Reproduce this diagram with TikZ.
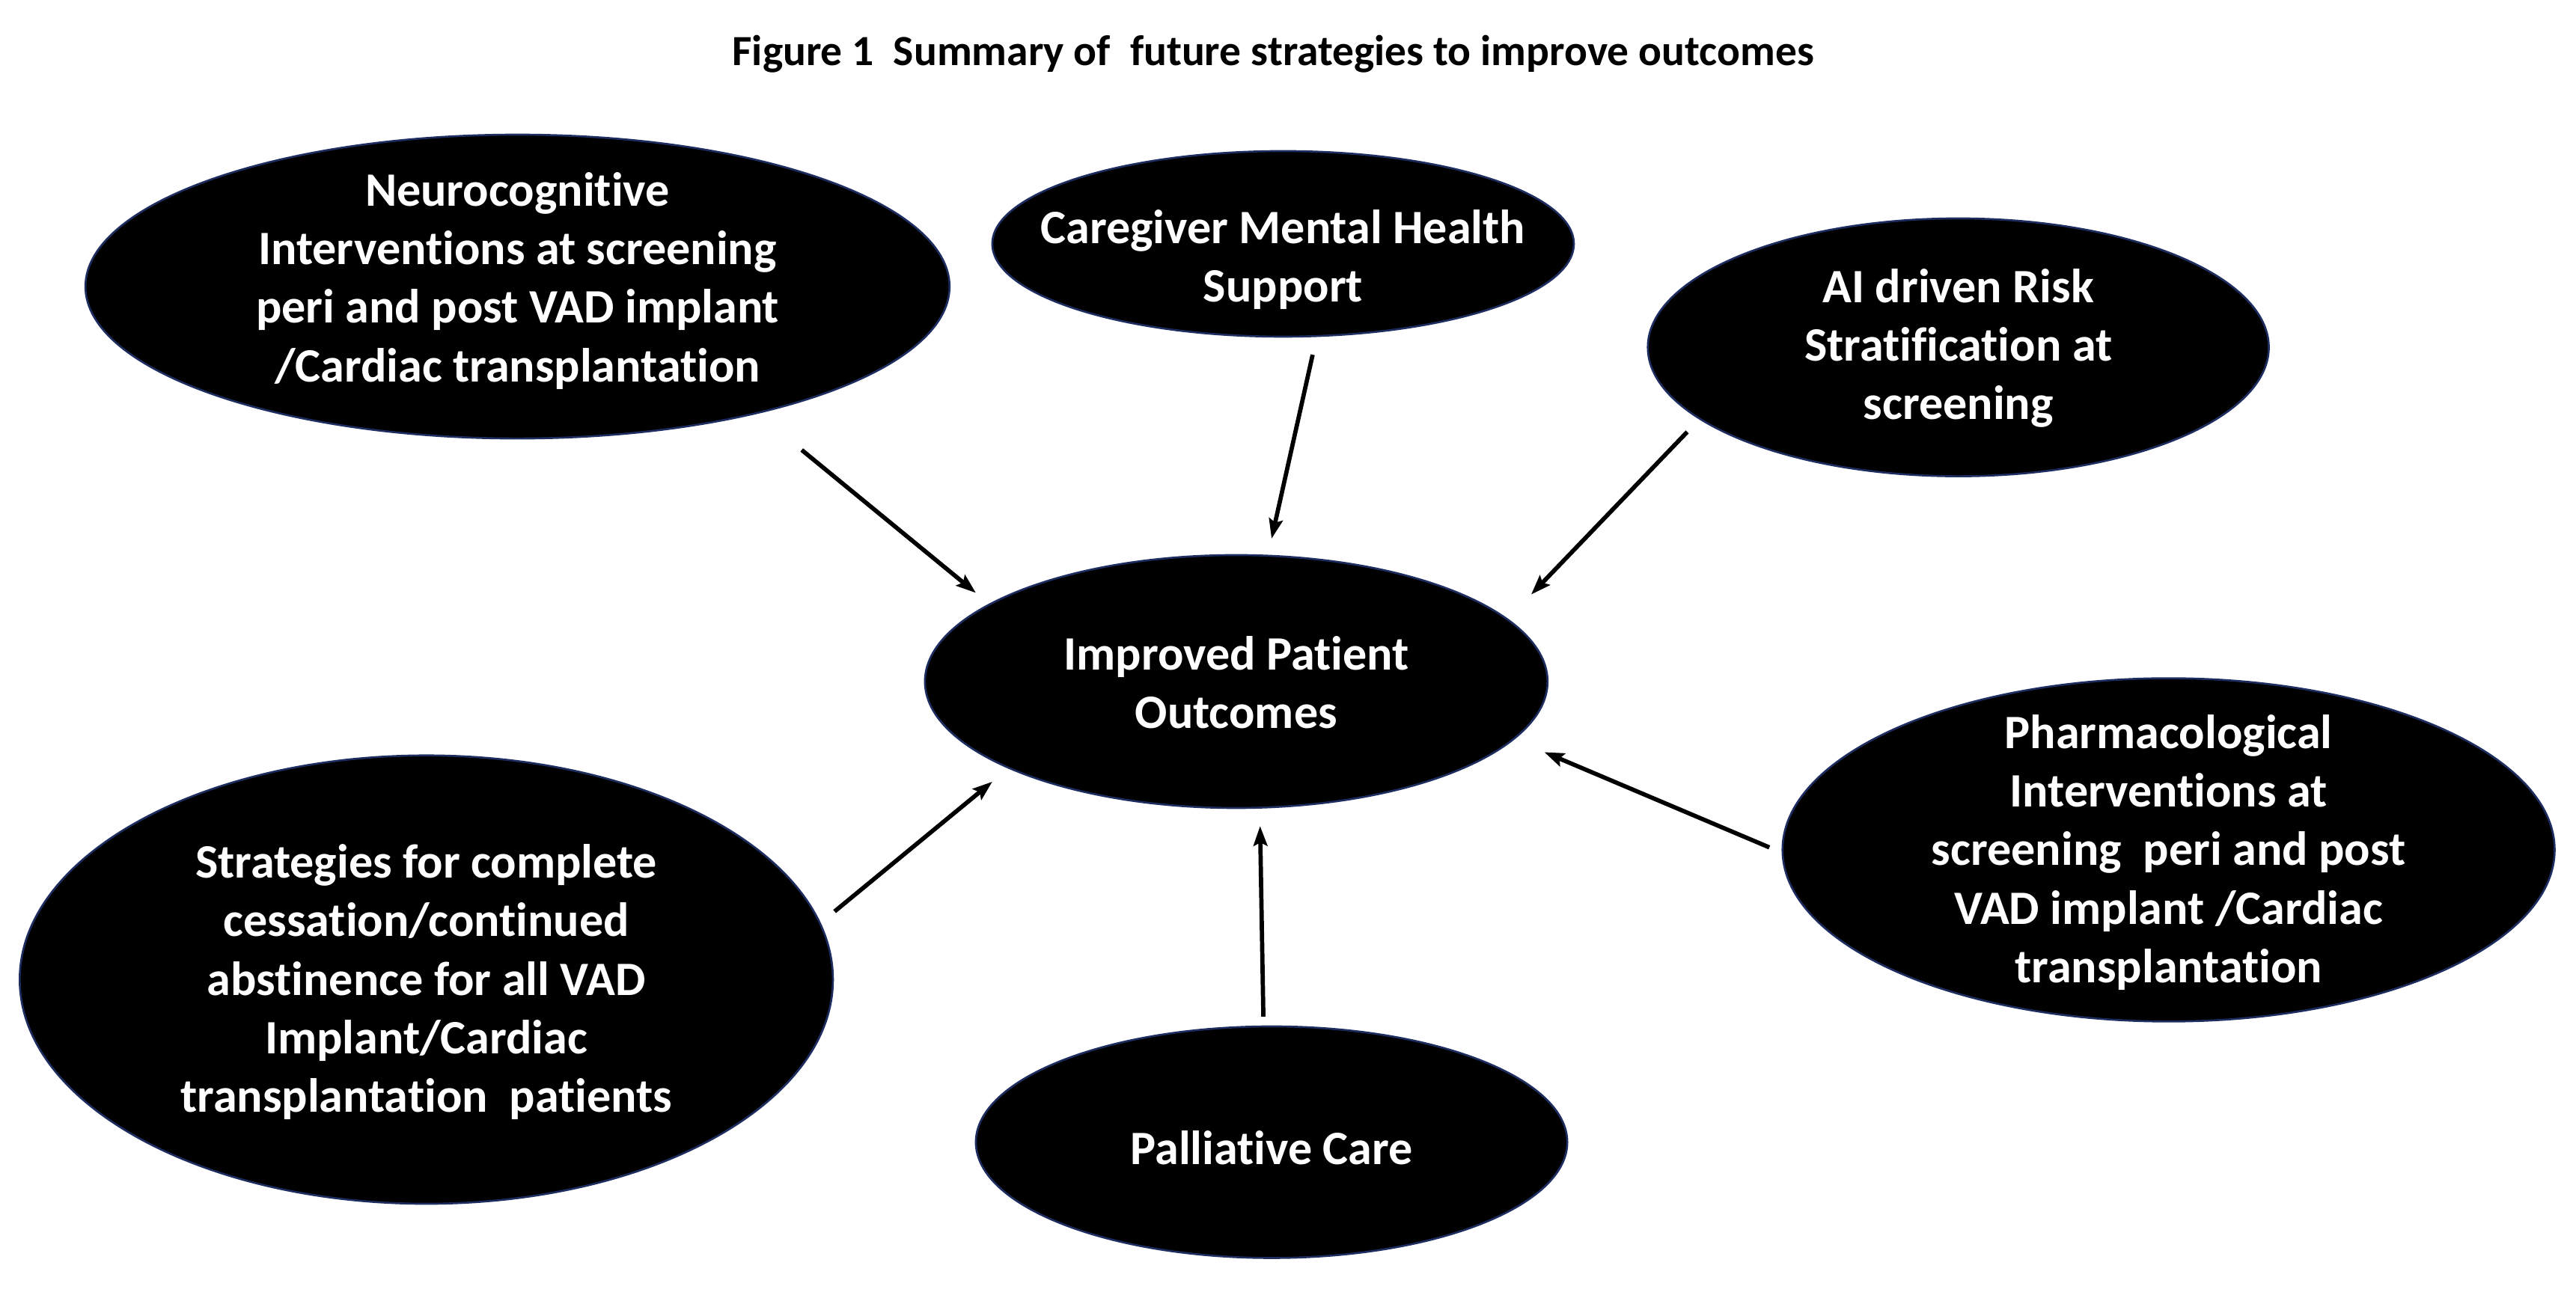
\documentclass[tikz,border=0pt]{standalone}
\usepackage{fontspec}
\setmainfont{Carlito}[RawFeature={-liga}]
\usetikzlibrary{shapes.geometric,arrows.meta}
\definecolor{rim}{RGB}{30,45,95}
\tikzset{
  blob/.style={ellipse, fill=black, draw=rim, line width=0.6pt, inner sep=0pt},
  lbl/.style={text=white, align=center, inner sep=0pt,
    font=\fontsize{14.6}{17.85}\selectfont\bfseries},
  conn/.style={line width=1.3pt, -{Stealth[length=6pt,width=4.2pt,inset=1pt]}},
  ttl/.style={inner sep=0pt, font=\fontsize{13.1}{16}\selectfont\bfseries}
}
\begin{document}
\begin{tikzpicture}[x=0.5pt,y=-0.5pt]
\useasboundingbox (0,0) rectangle (1568,790.3);
\fill[white] (0,0) rectangle (1568,790.3);

\node[ttl] (title) at (775,33) {Figure 1\ \ Summary of\ \ future strategies to improve outcomes};

% ellipses
\node[blob, minimum width=263pt, minimum height=92.5pt] (neuro) at (315,174.5) {};
\node[blob, minimum width=177pt, minimum height=56.5pt] (care) at (781,148.5) {};
\node[blob, minimum width=189pt, minimum height=78.5pt] (ai) at (1192,211.5) {};
\node[blob, minimum width=189.5pt, minimum height=77pt] (out) at (752.5,415) {};
\node[blob, minimum width=235pt, minimum height=104.5pt] (pharma) at (1320,517.5) {};
\node[blob, minimum width=247.5pt, minimum height=136.5pt] (strat) at (259.5,596.5) {};
\node[blob, minimum width=180pt, minimum height=70.5pt] (pall) at (774,695.5) {};

% texts
\node[lbl] (neurot) at (315,171) {Neurocognitive\\Interventions at screening\\peri and post VAD implant\\/Cardiac transplantation};
\node[lbl] (caret) at (781,158) {Caregiver Mental Health\\Support};
\node[lbl] (ait) at (1192,212) {AI driven Risk\\Stratification at\\screening};
\node[lbl] (outt) at (752.5,415.5) {Improved Patient\\Outcomes};
\node[lbl] (pharmat) at (1320,519) {Pharmacological\\Interventions at\\screening\ \ peri and post\\VAD implant /Cardiac\\transplantation};
\node[lbl] (stratt) at (259.5,598) {Strategies for complete\\cessation/continued\\abstinence for all VAD\\Implant/Cardiac\\transplantation\ \ patients};
\node[lbl] (pallt) at (774,699) {Palliative Care};

% connector ends
\coordinate (n1) at (488,274);  \coordinate (o1) at (594,361);
\coordinate (c1) at (799,216);  \coordinate (o2) at (774,328);
\coordinate (a1) at (1027,263); \coordinate (o3) at (932,362);
\coordinate (p1) at (1077,516); \coordinate (o4) at (940,458);
\coordinate (s1) at (508,555);  \coordinate (o5) at (604,476);
\coordinate (l1) at (769,619);  \coordinate (o6) at (767,503);

\draw[conn] (n1) -- (o1);
\draw[conn] (c1) -- (o2);
\draw[conn] (a1) -- (o3);
\draw[conn] (p1) -- (o4);
\draw[conn] (s1) -- (o5);
\draw[conn] (l1) -- (o6);
\end{tikzpicture}
\end{document}
